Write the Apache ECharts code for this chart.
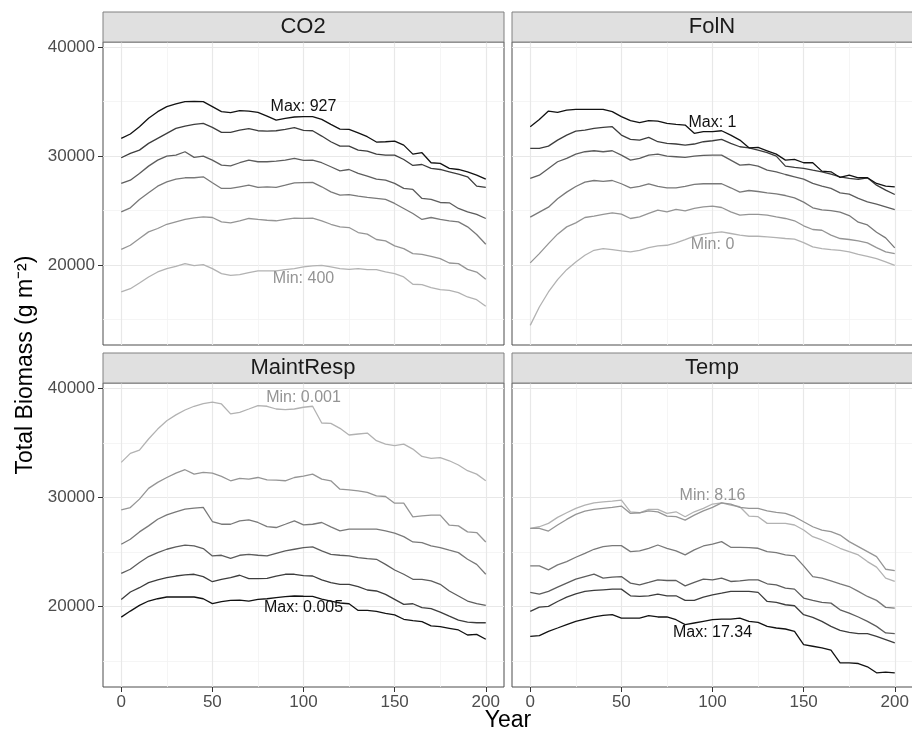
<!DOCTYPE html>
<html>
<head>
<meta charset="utf-8">
<script src="https://cdn.jsdelivr.net/npm/echarts@6/dist/echarts.min.js"></script>
<style>
  html, body { margin: 0; padding: 0; background: #fff; }
  #chart { width: 912px; height: 731px; }
</style>
</head>
<body>
<div id="chart"></div>
<script>
// simulation years (every 5 years)
const years = [0, 5, 10, 15, 20, 25, 30, 35, 40, 45, 50, 55, 60, 65, 70, 75, 80, 85, 90, 95, 100,
  105, 110, 115, 120, 125, 130, 135, 140, 145, 150, 155, 160, 165, 170, 175, 180, 185, 190, 195, 200];

// each panel: 6 runs, ordered from the lowest parameter value (lightest) to the highest (darkest)
const co2 = [
  [17520, 17820, 18350, 18900, 19360, 19670, 19880, 20130, 19940, 20030, 19670, 19210, 19050, 19110, 19300, 19450, 19450, 19450, 19570, 19670, 19820,
   19910, 19970, 19820, 19670, 19600, 19670, 19570, 19570, 19360, 19210, 18900, 18230, 18200, 17920, 17730, 17670, 17460, 17060, 16810, 16200],
  [21440, 21810, 22430, 23040, 23350, 23740, 23960, 24180, 24330, 24420, 24360, 23960, 23870, 24060, 24270, 24180, 24110, 24060, 24180, 24300, 24280,
   24300, 24060, 23740, 23500, 23440, 22980, 22830, 22340, 22210, 21750, 21500, 21040, 20980, 20800, 20580, 20180, 20120, 19600, 19350, 18680],
  [24880, 25250, 26020, 26630, 27240, 27640, 27880, 28010, 28010, 28100, 27550, 27030, 27030, 27180, 27330, 27120, 27180, 27120, 27330, 27550, 27570,
   27580, 27180, 26720, 26410, 26470, 26320, 26200, 26110, 26020, 25650, 25190, 24730, 24180, 24360, 24180, 24060, 23960, 23500, 22800, 21910],
  [27490, 27790, 28410, 29080, 29630, 30000, 30090, 30400, 29880, 30000, 29630, 29170, 29110, 29390, 29630, 29480, 29480, 29540, 29630, 29790, 29600,
   29630, 29390, 29020, 28650, 28770, 28410, 28160, 27880, 27790, 27490, 27030, 26940, 26110, 26020, 25740, 25710, 25190, 24880, 24640, 24270],
  [29850, 30250, 30550, 31170, 31630, 32090, 32550, 32760, 32910, 33010, 32640, 32180, 32180, 32390, 32520, 32330, 32300, 32330, 32450, 32610, 32360,
   32330, 31840, 31320, 30920, 30920, 30550, 30460, 30180, 30090, 30090, 29690, 29140, 29230, 28870, 28770, 28560, 28350, 28100, 27240, 27120],
  [31630, 32030, 32700, 33470, 34080, 34540, 34790, 35000, 35030, 35000, 34540, 34080, 33990, 34170, 34140, 34020, 33680, 33310, 33470, 33590, 33620,
   33620, 33370, 32910, 32480, 32450, 32140, 31780, 31290, 31320, 31380, 31010, 30180, 30310, 29390, 29330, 28870, 28770, 28560, 28250, 27880]
];

const folN = [
  [14450, 16140, 17520, 18650, 19570, 20280, 20890, 21350, 21500, 21410, 21290, 21200, 21350, 21600, 21750, 21810, 22030, 22330, 22640, 22830, 22950,
   23040, 22890, 22740, 22640, 22640, 22580, 22520, 22430, 22370, 22060, 21660, 21500, 21410, 21350, 21200, 20980, 20800, 20580, 20280, 19970],
  [20190, 21040, 21960, 22830, 23500, 23870, 24360, 24480, 24640, 24790, 24670, 24270, 24420, 24730, 25040, 24880, 25100, 24970, 25190, 25340, 25400,
   25280, 24880, 24580, 24640, 24640, 24580, 24420, 24270, 24060, 23600, 23260, 23190, 22740, 22430, 22340, 22210, 22030, 21600, 21200, 21040],
  [24390, 24850, 25310, 26080, 26690, 27210, 27610, 27760, 27670, 27760, 27460, 27090, 27210, 27460, 27210, 27090, 27090, 27210, 27400, 27460, 27460,
   27460, 27090, 26690, 26840, 26750, 26630, 26530, 26380, 26170, 25770, 25250, 25060, 25000, 24850, 24540, 23930, 23680, 23010, 22490, 21570],
  [27950, 28250, 28870, 29480, 29790, 30180, 30400, 30490, 30400, 30490, 30090, 29630, 29790, 30090, 30180, 30000, 29940, 29880, 30000, 30060, 30090,
   30090, 29630, 29170, 29230, 29080, 28710, 28560, 28310, 28100, 27880, 27490, 27240, 27030, 26630, 26500, 26110, 25800, 25580, 25340, 25090],
  [30710, 30710, 30920, 31470, 31930, 32300, 32390, 32550, 32640, 32700, 31930, 31540, 31470, 31720, 31320, 31170, 31110, 31010, 31110, 31320, 31410,
   31540, 31170, 30860, 30760, 30550, 30310, 30000, 29080, 28960, 28870, 28710, 28560, 28350, 28100, 27950, 27860, 28010, 27330, 26870, 26470],
  [32700, 33370, 34140, 34020, 34230, 34300, 34300, 34300, 34300, 34080, 33620, 33250, 33070, 33250, 33220, 33010, 32910, 32850, 32090, 32240, 32240,
   32330, 31930, 31470, 30760, 30800, 30490, 30180, 29630, 29690, 29390, 29390, 28620, 28560, 28040, 28250, 28010, 28010, 27490, 27240, 27180]
];

const maintResp = [
  [33210, 34040, 34340, 35350, 36260, 37030, 37560, 38010, 38350, 38600, 38720, 38560, 37650, 37800, 38100, 38410, 38350, 38100, 38040, 38100, 38260,
   38350, 36820, 36790, 36330, 35720, 35810, 35900, 35200, 34890, 34740, 34890, 34430, 33760, 33580, 33640, 33360, 32970, 32450, 32140, 31530],
  [28870, 29080, 29850, 30830, 31380, 31830, 32230, 32540, 32140, 32290, 32230, 31930, 31530, 31740, 31680, 31830, 31620, 31590, 31530, 31830, 31950,
   32140, 31680, 31530, 30760, 30700, 30610, 30460, 30150, 30090, 29480, 29480, 28230, 28320, 28380, 28380, 27460, 27400, 26850, 26790, 25930],
  [25720, 26180, 26850, 27400, 28010, 28410, 28690, 28930, 29020, 29100, 27800, 27550, 27550, 27860, 27950, 27710, 27340, 27250, 27550, 27860, 27500,
   27550, 27710, 27310, 26940, 27100, 27100, 27100, 27100, 26940, 26730, 26420, 25930, 25870, 25570, 25410, 25170, 24950, 24340, 23880, 22970],
  [23060, 23430, 24040, 24590, 24950, 25260, 25470, 25630, 25570, 25320, 24650, 24710, 24430, 24710, 24800, 24710, 24650, 24890, 25110, 25260, 25400,
   25470, 25110, 24800, 24710, 24650, 24500, 24400, 24340, 23880, 23360, 22970, 22510, 22510, 22360, 22050, 21440, 20980, 20520, 20280, 20120],
  [20670, 21350, 21740, 22200, 22450, 22660, 22810, 22910, 22970, 22750, 22290, 22510, 22660, 22880, 22570, 22570, 22600, 22810, 22970, 22970, 22840,
   22810, 22450, 22200, 22050, 22050, 21840, 21530, 21440, 21130, 20670, 20210, 20270, 19910, 19820, 19510, 19140, 18780, 18590, 18530, 18530],
  [19050, 19600, 20120, 20520, 20730, 20890, 20890, 20890, 20890, 20730, 20280, 20460, 20580, 20610, 20520, 20670, 20730, 20830, 20920, 20980, 20960,
   20950, 20700, 20520, 20340, 20270, 19660, 19660, 19570, 19400, 19250, 18850, 18730, 18630, 18240, 18170, 18020, 17870, 17410, 17470, 17020]
];

const temp = [
  [27170, 27320, 27630, 28180, 28600, 29000, 29300, 29510, 29600, 29670, 29760, 28690, 28600, 28910, 28910, 28540, 28690, 28240, 28690, 29000, 29400,
   29510, 29300, 29150, 28300, 28240, 27630, 27630, 27630, 27480, 27020, 26410, 26110, 25740, 25350, 25040, 24740, 24130, 23620, 22610, 22310],
  [27170, 27170, 26930, 27480, 27990, 28450, 28750, 28910, 29000, 29090, 29210, 28540, 28600, 28780, 28690, 28300, 28240, 27930, 28390, 28780, 29090,
   29510, 29390, 29090, 29000, 29000, 28780, 28630, 28540, 28240, 27780, 27320, 27020, 26870, 26560, 25960, 25500, 25040, 24590, 23430, 23310],
  [23740, 23740, 23370, 23830, 24130, 24530, 24890, 25260, 25500, 25590, 25590, 25040, 25110, 25350, 25650, 25350, 25110, 24740, 25200, 25560, 25740,
   25960, 25440, 25440, 25410, 25350, 25040, 24950, 24740, 24650, 23740, 22760, 22610, 22370, 22100, 21850, 21400, 20940, 20580, 19940, 19880],
  [21310, 21150, 21400, 21790, 22160, 22520, 22760, 22980, 22610, 22700, 22760, 22160, 22000, 22220, 22460, 22400, 22400, 21910, 22220, 22520, 22460,
   22610, 22310, 22370, 22460, 22460, 22100, 22000, 21700, 21610, 20790, 20580, 20390, 20330, 19720, 19420, 19060, 18660, 18200, 17600, 17540],
  [19570, 19970, 20030, 20480, 20880, 21180, 21400, 21490, 21550, 21610, 21610, 21000, 20940, 21000, 21150, 21000, 21000, 20580, 20580, 20880, 21090,
   21240, 21400, 21400, 21400, 21310, 20480, 20390, 20180, 20090, 19270, 19030, 18660, 18200, 17840, 17660, 17540, 17540, 17290, 16990, 16680],
  [17290, 17350, 17750, 18050, 18360, 18660, 18870, 19060, 19210, 19270, 18960, 18960, 18960, 19180, 19060, 19060, 18810, 18360, 18510, 18660, 18810,
   18870, 18870, 18960, 18660, 18570, 18200, 18050, 17960, 17750, 16530, 16380, 16230, 16020, 14860, 14860, 14800, 14500, 13950, 14010, 13950]
];

const panelNames = ['CO2', 'FolN', 'MaintResp', 'Temp'];
const panelData = [co2, folN, maintResp, temp];

// annotation texts and where they sit (data coordinates)
const maxLabels = ['Max: 927', 'Max: 1', 'Max: 0.005', 'Max: 17.34'];
const maxLabelAt = [[100, 34520], [100, 33100], [100, 19880], [100, 17600]];
const minLabels = ['Min: 400', 'Min: 0', 'Min: 0.001', 'Min: 8.16'];
const minLabelAt = [[100, 18780], [100, 21850], [100, 39100], [100, 30180]];

const majorX = [0, 50, 100, 150, 200];
const minorX = [25, 75, 125, 175];
const majorY = [20000, 30000, 40000];
const minorY = [15000, 25000, 35000];

const lineColors = ['#b2b2b2', '#959595', '#797979', '#5d5d5d', '#3d3d3d', '#121212'];
const FONT = '"Liberation Sans", Arial, Helvetica, sans-serif';

// facet layout (pixels)
const panels = [
  { left: 103, top: 42, width: 401, height: 303 },
  { left: 512, top: 42, width: 401, height: 303 },
  { left: 103, top: 383, width: 401, height: 304 },
  { left: 512, top: 383, width: 401, height: 304 }
];
const STRIP_H = 30;

const chart = echarts.init(document.getElementById('chart'), null, { renderer: 'canvas' });

const grid = panels.map(p => ({
  left: p.left, top: p.top, width: p.width, height: p.height,
  show: true, borderColor: '#4d4d4d', borderWidth: 1, backgroundColor: '#fff',
  containLabel: false, outerBoundsMode: 'none'
}));

const plain = v => String(v);

const xAxis = [];
const yAxis = [];
panels.forEach((p, i) => {
  const isBottom = i >= 2;
  const isLeft = i % 2 === 0;
  xAxis.push({
    type: 'value', gridIndex: i, min: -10, max: 210, position: 'bottom',
    axisLine: { show: false, onZero: false },
    axisTick: { show: isBottom, customValues: majorX, length: 5, lineStyle: { color: '#333', width: 1 } },
    axisLabel: { show: isBottom, customValues: majorX, formatter: plain, fontSize: 17, color: '#4d4d4d', margin: 7, fontFamily: FONT },
    splitLine: { show: true, lineStyle: { color: '#e8e8e8', width: 1.2 } }
  });
  xAxis.push({
    type: 'value', gridIndex: i, min: -10, max: 210, position: 'bottom',
    axisLine: { show: false, onZero: false },
    axisTick: { show: false, customValues: minorX },
    axisLabel: { show: false },
    splitLine: { show: true, lineStyle: { color: '#f2f2f2', width: 0.8 } }
  });
  yAxis.push({
    type: 'value', gridIndex: i, min: 12650, max: 40480, position: 'left',
    axisLine: { show: false, onZero: false },
    axisTick: { show: isLeft, customValues: majorY, length: 5, lineStyle: { color: '#333', width: 1 } },
    axisLabel: { show: isLeft, customValues: majorY, formatter: plain, fontSize: 17, color: '#4d4d4d', margin: 8, fontFamily: FONT },
    splitLine: { show: true, lineStyle: { color: '#e8e8e8', width: 1.2 } }
  });
  yAxis.push({
    type: 'value', gridIndex: i, min: 12650, max: 40480, position: 'left',
    axisLine: { show: false, onZero: false },
    axisTick: { show: false, customValues: minorY },
    axisLabel: { show: false },
    splitLine: { show: true, lineStyle: { color: '#f2f2f2', width: 0.8 } }
  });
});

const series = [];
panelData.forEach((runs, i) => {
  runs.forEach((vals, k) => {
    const s = {
      type: 'line',
      xAxisIndex: 2 * i,
      yAxisIndex: 2 * i,
      data: years.map((yr, j) => [yr, vals[j]]),
      showSymbol: false,
      symbol: 'none',
      silent: true,
      lineStyle: { color: lineColors[k], width: 1.3 },
      itemStyle: { color: lineColors[k] },
      z: 2 + k
    };
    if (k === 0) {
      s.markPoint = {
        symbol: 'circle',
        symbolSize: 0,
        silent: true,
        animation: false,
        label: { show: true, position: 'inside', fontSize: 16, fontFamily: FONT },
        data: [
          { coord: maxLabelAt[i], label: { formatter: maxLabels[i], color: '#111' } },
          { coord: minLabelAt[i], label: { formatter: minLabels[i], color: '#949494' } }
        ]
      };
    }
    series.push(s);
  });
});

// facet strips and axis titles
const graphic = [];
panels.forEach((p, i) => {
  graphic.push({
    type: 'rect', silent: true, z: 10,
    shape: { x: p.left, y: p.top - STRIP_H, width: p.width, height: STRIP_H },
    style: { fill: '#e0e0e0', stroke: '#808080', lineWidth: 1 }
  });
  graphic.push({
    type: 'text', silent: true, z: 11,
    x: p.left + 200, y: p.top - STRIP_H / 2,
    style: { text: panelNames[i], fontSize: 22, fontFamily: FONT, fill: '#1a1a1a', align: 'center', verticalAlign: 'middle' }
  });
});
graphic.push({
  type: 'text', silent: true,
  x: 26, y: 365, rotation: Math.PI / 2,
  style: { text: 'Total Biomass (g m⁻²)', fontSize: 23, fontFamily: FONT, fill: '#000', align: 'center', verticalAlign: 'middle' }
});
graphic.push({
  type: 'text', silent: true,
  x: 508, y: 721,
  style: { text: 'Year', fontSize: 23, fontFamily: FONT, fill: '#000', align: 'center', verticalAlign: 'middle' }
});

chart.setOption({
  animation: false,
  backgroundColor: '#fff',
  grid: grid,
  xAxis: xAxis,
  yAxis: yAxis,
  series: series,
  graphic: graphic
});
</script>
</body>
</html>
